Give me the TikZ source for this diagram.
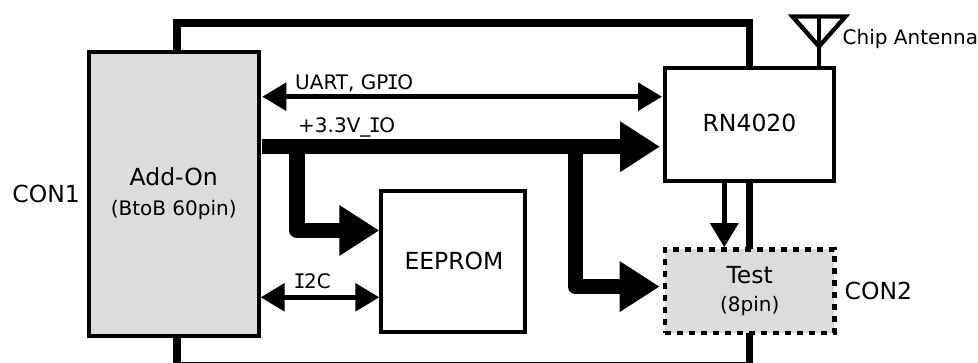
\documentclass[tikz,border=0pt]{standalone}
\usepackage{fontspec}
\setmainfont{DejaVu Sans}
\newfontfamily\monoI{DejaVu Sans Mono}
\newcommand\serifI{\kern-.075em{\monoI I}\kern-.075em}
\usetikzlibrary{arrows.meta}
\definecolor{boxgray}{HTML}{DCDCDC}
\newcommand\fsbig{\fontsize{23.5}{30}\selectfont}
\newcommand\fssmall{\fontsize{20}{30}\selectfont}
\tikzset{
  blockbox/.style={draw=black,line width=4pt,rectangle,inner sep=0pt,align=center,font=\fsbig},
  frameline/.style={draw=black,line width=7.4pt,line cap=butt,miter limit=10},
  signal/.style={draw=black,line width=4.5pt,{Triangle[length=24pt,width=27.5pt]}-{Triangle[length=24pt,width=27.5pt]}},
  oneway/.style={draw=black,line width=4.5pt,-{Triangle[length=24pt,width=27.5pt]}},
  powerline/.style={draw=black,line width=15.5pt,line join=round,-{Triangle[length=40pt,width=48pt]}},
  biglabel/.style={font=\fsbig,inner sep=0pt,anchor=base west},
  smalllabel/.style={font=\fssmall,inner sep=0pt,anchor=base west}
}
\begin{document}
\begin{tikzpicture}[x=1pt,y=-1pt]
\clip (0,0) rectangle (978,363);
\fill[white] (0,0) rectangle (978,363);

% frame behind the blocks
\coordinate (f1) at (177,100);
\coordinate (f2) at (177,23);
\coordinate (f3) at (749.5,23);
\coordinate (f4) at (749.5,100);
\coordinate (f5) at (749.5,300);
\coordinate (f6) at (749.5,366);
\coordinate (f7) at (177,366);
\coordinate (f8) at (177,300);
\draw[frameline] (f1) -- (f2) -- (f3) -- (f4);
\draw[frameline] (f5) -- (f6) -- (f7) -- (f8);
\draw[frameline] (f4) -- (f5);

% blocks
\node[blockbox,fill=boxgray,minimum width=170pt,minimum height=283.7pt] (addon) at (173.7,193.85)
  {{\fsbig Add-On}\\{\fssmall (BtoB 60pin)}};
\node[blockbox,fill=white,minimum width=169pt,minimum height=113.5pt,text depth=3pt] (rn) at (749.5,124.5) {RN4020};
\node[blockbox,fill=white,minimum width=143.4pt,minimum height=141.3pt] (eeprom) at (453,261.3) {\kern2pt EEPROM};
\node[blockbox,fill=boxgray,draw=none,minimum width=169.5pt,minimum height=83.5pt] (testfill) at (749.7,291.25) {};
\node[blockbox,line width=4.5pt,dash pattern=on 6.5pt off 5.5pt,minimum width=169.5pt,minimum height=83.5pt] (test) at (749.7,291.25)
  {{\fsbig Test}\\[-2.3pt]{\fssmall (8pin)}};

% signal connectors
\coordinate (uartL) at ([xshift=1.6pt]addon.east |- 0,96.7);
\coordinate (uartR) at ([xshift=-1pt]rn.west |- 0,96.7);
\draw[signal] (uartL) -- (uartR);
\coordinate (i2cL) at (addon.east |- 0,297.3);
\coordinate (i2cR) at (eeprom.west |- 0,297.3);
\draw[signal] (i2cL) -- (i2cR);
\coordinate (rnTest) at (724.3,0);
\draw[oneway] (rn.south -| rnTest) -- (test.north -| rnTest);

% power connectors
\coordinate (pwrS) at ([xshift=1.3pt]addon.east |- 0,146.7);
\coordinate (pwrE) at ([xshift=-3pt]rn.west |- 0,146.7);
\coordinate (br1) at (297,146.7);
\coordinate (br1b) at (297,230.5);
\coordinate (br1e) at (eeprom.west |- 0,230.5);
\coordinate (br2) at (575.5,146.7);
\coordinate (br2b) at (575.5,286.6);
\coordinate (br2e) at ([xshift=-3pt]test.west |- 0,286.6);
\draw[powerline] (pwrS) -- (pwrE);
\draw[powerline] (br1) -- (br1b) -- (br1e);
\draw[powerline] (br2) -- (br2b) -- (br2e);

% antenna
\coordinate (a1) at (792.5,16.5);
\coordinate (a2) at (845.5,16.5);
\coordinate (a3) at (819,46.5);
\draw[black,line width=4.3pt,miter limit=10] (a1) -- (a2) -- (a3) -- cycle;
\coordinate (stemTop) at (819,16.5);
\draw[black,line width=4.5pt] (stemTop) -- (rn.north -| stemTop);

% labels
\node[biglabel] (con1) at (12.3,202.7) {CON1};
\node[biglabel] (con2) at (844.5,300) {CON2};
\node[smalllabel] (uartlab) at (295,89.3) {UART, GP\serifI O};
\node[smalllabel] (pwrlab) at (298,132.7) {+3.3V\_\serifI O};
\node[smalllabel,anchor=base] (i2clab) at (313,289) {\serifI 2C};
\node[smalllabel,font=\fontsize{20}{25}\selectfont] (chip) at (842.5,45) {Chip Antenna};
\end{tikzpicture}
\end{document}
